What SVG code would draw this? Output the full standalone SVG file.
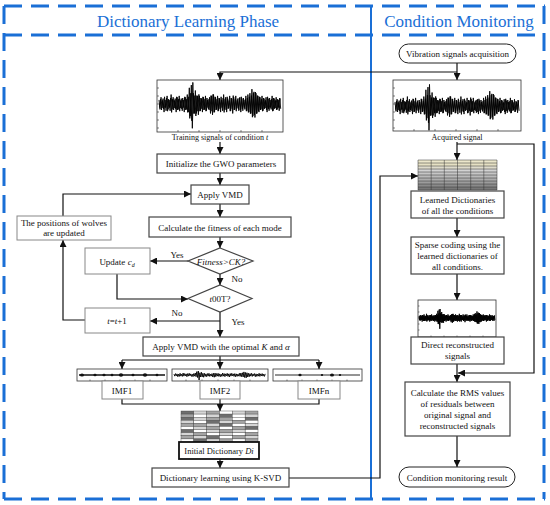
<svg xmlns="http://www.w3.org/2000/svg" xmlns:xlink="http://www.w3.org/1999/xlink" width="550" height="505" viewBox="0 0 550 505">
<style>
text{font-family:"Liberation Serif","Times New Roman",serif;font-size:9px;fill:#111;text-anchor:middle}
.title{font-size:17px;fill:#1a6fd6}
.frame{stroke:#1a6fd6;stroke-width:3;stroke-dasharray:18 9;fill:none}
.box{fill:#fff;stroke:#444;stroke-width:1.2}
.lbox{fill:#fff;stroke:#888;stroke-width:1}
.bbox{fill:#fff;stroke:#111;stroke-width:1.8}
.pill{fill:#fff;stroke:#222;stroke-width:1}
.plot{fill:#fff;stroke:#333;stroke-width:0.8}
.tick{stroke:#333;stroke-width:0.6;fill:none}
.conn{fill:none;stroke:#111;stroke-width:1.2}
.arr{marker-end:url(#ar)}
.g0{fill:#fff}.g1{fill:#d6d6d6}.g2{fill:#a4a4a4}.g3{fill:#6e6e6e}
.cell rect{stroke:#444;stroke-width:0.4}
.it{font-style:italic}
</style>
<defs>
<marker id="ar" viewBox="0 0 10 10" refX="10" refY="5" markerWidth="7" markerHeight="7" orient="auto" markerUnits="userSpaceOnUse"><path d="M0,0L10,5L0,10z" fill="#111"/></marker>
<path id="nz" fill="none" stroke="#000" stroke-width="0.9" vector-effect="non-scaling-stroke" d="M0,-3L1,4 2,-5 3,3 4,-4 5,6 6,-3 7,5 8,-6 9,4 10,-3 11,5 12,-7 13,4 14,-5 15,3 16,-4 17,6 18,-5 19,4 20,-6 21,3 22,-4 23,5 24,-3 25,6 26,-5 27,4 28,-7 29,6 30,-12 31,9 32,-14 33,18 34,-8 35,7 36,-10 37,7 38,-6 39,8 40,-6 41,5 42,-4 43,6 44,-5 45,4 46,-6 47,5 48,-3 49,4 50,-5 51,7 52,-6 53,8 54,-7 55,6 56,-5 57,4 58,-6 59,5 60,-4 61,6 62,-3 63,5 64,-7 65,4 66,-5 67,6 68,-4 69,3 70,-6 71,5 72,-4 73,7 74,-5 75,4 76,-6 77,3 78,-4 79,5 80,-5 81,6 82,-4 83,5 84,-3 85,4 86,-6 87,5 88,-7 89,6 90,-8 91,7 92,-11 93,9 94,-9 95,10 96,-8 97,7 98,-6 99,6 100,-5 101,4 102,-6 103,5 104,-4 105,3 106,-5 107,6 108,-4 109,5 110,-3 111,4 112,-6 113,5 114,-4 115,3 116,-5 117,4 118,-3 119,5 120,-4"/>
</defs>

<g id="frame">
<line class="frame" x1="4" y1="6" x2="545" y2="6"/>
<line class="frame" x1="4" y1="35" x2="545" y2="35"/>
<line class="frame" x1="4" y1="499" x2="545" y2="499"/>
<line class="frame" x1="4" y1="6" x2="4" y2="499"/>
<line class="frame" x1="544" y1="6" x2="544" y2="499"/>
<line x1="371" y1="5" x2="371" y2="500" stroke="#1a6fd6" stroke-width="2"/>
<text class="title" x="188" y="27">Dictionary Learning Phase</text>
<text class="title" x="459" y="27">Condition Monitoring</text>
</g>

<g id="connectors">
<path class="conn arr" d="M457,63V80"/>
<path class="conn arr" d="M457,72H220V80"/>
<path class="conn arr" d="M220,142V154"/>
<path class="conn arr" d="M220,173V185"/>
<path class="conn arr" d="M220,204V217"/>
<path class="conn arr" d="M220,237V248"/>
<path class="conn arr" d="M188,261H150"/>
<path class="conn arr" d="M220,274V285"/>
<path class="conn arr" d="M117,274V299H188"/>
<path class="conn arr" d="M220,312V337"/>
<path class="conn arr" d="M220,321H150"/>
<path class="conn arr" d="M85,320H63V240"/>
<path class="conn arr" d="M63,216V194H191"/>
<path class="conn arr" d="M220,356V369"/>
<path class="conn" d="M122,360H319"/>
<path class="conn arr" d="M122,360V369"/>
<path class="conn arr" d="M319,360V369"/>
<path class="conn" d="M122,399V404H319V399"/>
<path class="conn arr" d="M220,399V411"/>
<path class="conn arr" d="M220,459V468"/>
<path class="conn arr" d="M289,478H380V176H418"/>
<path class="conn arr" d="M457,142V160"/>
<path class="conn arr" d="M457,144H534V373H458"/>
<path class="conn arr" d="M457,218V237"/>
<path class="conn arr" d="M457,274V300"/>
<path class="conn arr" d="M457,364V382"/>
<path class="conn arr" d="M457,436V467"/>
<text x="177" y="258">Yes</text>
<text x="237" y="282">No</text>
<text x="177" y="316">No</text>
<text x="238" y="325">Yes</text>
</g>

<g id="training-signal">
<rect class="plot" x="157" y="80" width="126" height="52"/>
<path class="tick" d="M157,88h2M157,96h2M157,104h2M157,112h2M157,120h2M157,128h2M178,132v-2M199,132v-2M220,132v-2M241,132v-2M262,132v-2"/>
<use href="#nz" xlink:href="#nz" transform="translate(159,104) scale(1.01,1.35)"/>
<use href="#nz" xlink:href="#nz" transform="translate(159.5,104) scale(1.01,-1.2)"/>
<text x="220" y="140" style="font-size:8px">Training signals of condition <tspan class="it">t</tspan></text>
</g>

<g id="init-gwo">
<rect class="box" x="157" y="154" width="128" height="19"/>
<text x="221" y="167">Initialize the GWO parameters</text>
</g>

<g id="apply-vmd">
<rect class="box" x="191" y="185" width="58" height="19"/>
<text x="220" y="198">Apply VMD</text>
</g>

<g id="calc-fitness">
<rect class="box" x="149" y="217" width="142" height="20"/>
<text x="220" y="230.5">Calculate the fitness of each mode</text>
</g>

<g id="decision-fitness">
<polygon class="box" points="220,248 253,261 220,274 188,261"/>
<text class="it" x="221" y="264.5">Fitness&gt;CK?</text>
</g>

<g id="update-cd">
<rect class="lbox" x="85" y="248" width="65" height="26"/>
<text x="117" y="264.5">Update <tspan class="it">c</tspan><tspan class="it" dy="2" style="font-size:6px">d</tspan></text>
</g>

<g id="wolves-updated">
<rect class="lbox" x="17" y="216" width="94" height="24"/>
<text x="64" y="225.5">The positions of wolves</text>
<text x="64" y="236">are updated</text>
</g>

<g id="decision-t">
<polygon class="box" points="220,285 252,298.5 220,312 188,298.5"/>
<text x="220" y="302"><tspan class="it">t</tspan>00T?</text>
</g>

<g id="t-increment">
<rect class="lbox" x="85" y="308" width="65" height="25"/>
<text x="117" y="324"><tspan class="it">t</tspan>=<tspan class="it">t</tspan>+1</text>
</g>

<g id="apply-vmd-optimal">
<rect class="box" x="143" y="337" width="156" height="19"/>
<text x="221" y="350">Apply VMD with the optimal <tspan class="it">K</tspan> and  <tspan class="it">α</tspan></text>
</g>

<g id="imf1">
<rect class="plot" x="77" y="369" width="90" height="12"/>
<path class="tick" d="M90,381v-1.5M105,381v-1.5M120,381v-1.5M135,381v-1.5M150,381v-1.5"/>
<line x1="79" y1="375" x2="165" y2="375" stroke="#111" stroke-width="1.3"/>
<g fill="#111"><ellipse cx="82" cy="375" rx="2" ry="1.6"/><ellipse cx="95" cy="375" rx="1.6" ry="1.3"/><ellipse cx="104" cy="375" rx="1.6" ry="1.3"/><ellipse cx="112" cy="375" rx="1.4" ry="1.2"/><ellipse cx="121" cy="375" rx="2.2" ry="1.7"/><ellipse cx="133" cy="375" rx="1.5" ry="1.3"/><ellipse cx="145" cy="375" rx="2.2" ry="1.8"/><ellipse cx="157" cy="375" rx="1.4" ry="1.2"/></g>
<rect class="lbox" x="102" y="381" width="41" height="18"/>
<text x="122" y="393.5">IMF1</text>
</g>

<g id="imf2">
<rect class="plot" x="172" y="369" width="96" height="12"/>
<path class="tick" d="M186,381v-1.5M202,381v-1.5M218,381v-1.5M234,381v-1.5M250,381v-1.5"/>
<use href="#nz" xlink:href="#nz" transform="translate(174,375) scale(0.76,0.28)"/>
<rect class="lbox" x="200" y="381" width="40" height="18"/>
<text x="220" y="393.5">IMF2</text>
</g>

<g id="imfn">
<rect class="plot" x="273" y="369" width="89" height="12"/>
<path class="tick" d="M287,381v-1.5M302,381v-1.5M317,381v-1.5M332,381v-1.5M347,381v-1.5"/>
<line x1="275" y1="375" x2="360" y2="375" stroke="#111" stroke-width="0.9"/>
<g fill="#111"><ellipse cx="300" cy="375" rx="1.6" ry="1.3"/><ellipse cx="322" cy="375" rx="1.2" ry="1"/><ellipse cx="332" cy="375" rx="2" ry="1.6"/><ellipse cx="340" cy="375" rx="1.2" ry="1"/></g>
<rect class="lbox" x="298" y="381" width="42" height="18"/>
<text x="319" y="393.5">IMFn</text>
</g>

<g id="initial-dictionary">
<g class="cell">
<rect class="g3" x="181" y="411" width="12.8" height="3.1"/><rect class="g1" x="193.8" y="411" width="12.8" height="3.1"/><rect class="g2" x="206.7" y="411" width="12.8" height="3.1"/><rect class="g0" x="219.5" y="411" width="12.8" height="3.1"/><rect class="g1" x="232.3" y="411" width="12.8" height="3.1"/><rect class="g2" x="245.2" y="411" width="12.8" height="3.1"/>
<rect class="g2" x="181" y="414.1" width="12.8" height="3.1"/><rect class="g0" x="193.8" y="414.1" width="12.8" height="3.1"/><rect class="g1" x="206.7" y="414.1" width="12.8" height="3.1"/><rect class="g3" x="219.5" y="414.1" width="12.8" height="3.1"/><rect class="g0" x="232.3" y="414.1" width="12.8" height="3.1"/><rect class="g1" x="245.2" y="414.1" width="12.8" height="3.1"/>
<rect class="g3" x="181" y="417.2" width="12.8" height="3.1"/><rect class="g1" x="193.8" y="417.2" width="12.8" height="3.1"/><rect class="g2" x="206.7" y="417.2" width="12.8" height="3.1"/><rect class="g2" x="219.5" y="417.2" width="12.8" height="3.1"/><rect class="g0" x="232.3" y="417.2" width="12.8" height="3.1"/><rect class="g3" x="245.2" y="417.2" width="12.8" height="3.1"/>
<rect class="g1" x="181" y="420.3" width="12.8" height="3.1"/><rect class="g0" x="193.8" y="420.3" width="12.8" height="3.1"/><rect class="g3" x="206.7" y="420.3" width="12.8" height="3.1"/><rect class="g1" x="219.5" y="420.3" width="12.8" height="3.1"/><rect class="g2" x="232.3" y="420.3" width="12.8" height="3.1"/><rect class="g0" x="245.2" y="420.3" width="12.8" height="3.1"/>
<rect class="g2" x="181" y="423.4" width="12.8" height="3.1"/><rect class="g2" x="193.8" y="423.4" width="12.8" height="3.1"/><rect class="g1" x="206.7" y="423.4" width="12.8" height="3.1"/><rect class="g3" x="219.5" y="423.4" width="12.8" height="3.1"/><rect class="g0" x="232.3" y="423.4" width="12.8" height="3.1"/><rect class="g1" x="245.2" y="423.4" width="12.8" height="3.1"/>
<rect class="g0" x="181" y="426.5" width="12.8" height="3.1"/><rect class="g1" x="193.8" y="426.5" width="12.8" height="3.1"/><rect class="g2" x="206.7" y="426.5" width="12.8" height="3.1"/><rect class="g0" x="219.5" y="426.5" width="12.8" height="3.1"/><rect class="g2" x="232.3" y="426.5" width="12.8" height="3.1"/><rect class="g3" x="245.2" y="426.5" width="12.8" height="3.1"/>
<rect class="g3" x="181" y="429.6" width="12.8" height="3.1"/><rect class="g0" x="193.8" y="429.6" width="12.8" height="3.1"/><rect class="g1" x="206.7" y="429.6" width="12.8" height="3.1"/><rect class="g2" x="219.5" y="429.6" width="12.8" height="3.1"/><rect class="g1" x="232.3" y="429.6" width="12.8" height="3.1"/><rect class="g0" x="245.2" y="429.6" width="12.8" height="3.1"/>
<rect class="g1" x="181" y="432.7" width="12.8" height="3.1"/><rect class="g2" x="193.8" y="432.7" width="12.8" height="3.1"/><rect class="g0" x="206.7" y="432.7" width="12.8" height="3.1"/><rect class="g1" x="219.5" y="432.7" width="12.8" height="3.1"/><rect class="g0" x="232.3" y="432.7" width="12.8" height="3.1"/><rect class="g2" x="245.2" y="432.7" width="12.8" height="3.1"/>
<rect class="g2" x="181" y="435.8" width="12.8" height="3.1"/><rect class="g1" x="193.8" y="435.8" width="12.8" height="3.1"/><rect class="g3" x="206.7" y="435.8" width="12.8" height="3.1"/><rect class="g0" x="219.5" y="435.8" width="12.8" height="3.1"/><rect class="g2" x="232.3" y="435.8" width="12.8" height="3.1"/><rect class="g1" x="245.2" y="435.8" width="12.8" height="3.1"/>
<rect class="g0" x="181" y="438.9" width="12.8" height="3.1"/><rect class="g3" x="193.8" y="438.9" width="12.8" height="3.1"/><rect class="g1" x="206.7" y="438.9" width="12.8" height="3.1"/><rect class="g2" x="219.5" y="438.9" width="12.8" height="3.1"/><rect class="g0" x="232.3" y="438.9" width="12.8" height="3.1"/><rect class="g2" x="245.2" y="438.9" width="12.8" height="3.1"/>
</g>
<rect class="bbox" x="179" y="442" width="80" height="17"/>
<text x="219" y="454" style="font-size:8.5px">Initial Dictionary <tspan class="it">Di</tspan></text>
</g>

<g id="ksvd">
<rect class="box" x="152" y="468" width="137" height="19"/>
<text x="220.5" y="481">Dictionary learning using K-SVD</text>
</g>

<g id="vibration-acquisition">
<rect class="pill" x="399" y="44" width="117" height="19" rx="9.5"/>
<text x="457.5" y="57">Vibration signals acquisition</text>
</g>

<g id="acquired-signal">
<rect class="plot" x="393" y="80" width="128" height="51"/>
<path class="tick" d="M393,88h2M393,96h2M393,104h2M393,112h2M393,120h2M393,128h2M414,131v-2M435,131v-2M456,131v-2M477,131v-2M498,131v-2"/>
<use href="#nz" xlink:href="#nz" transform="translate(395,106) scale(1.03,1.35)"/>
<use href="#nz" xlink:href="#nz" transform="translate(395.5,106) scale(1.03,-1.2)"/>
<text x="457" y="140" style="font-size:8px">Acquired signal</text>
</g>

<g id="learned-dictionaries">
<rect x="418" y="160" width="79" height="3" fill="#ece7cb"/>
<rect x="418" y="163" width="79" height="3" fill="#e6e1c4"/>
<rect x="418" y="166" width="79" height="3" fill="#dedbcc"/>
<rect x="418" y="169" width="79" height="3" fill="#d2d2d2"/>
<rect x="418" y="172" width="79" height="3" fill="#c6c6c6"/>
<rect x="418" y="175" width="79" height="3" fill="#bababa"/>
<rect x="418" y="178" width="79" height="3" fill="#acacac"/>
<rect x="418" y="181" width="79" height="3" fill="#9c9c9c"/>
<rect x="418" y="184" width="79" height="3" fill="#8a8a8a"/>
<rect x="418" y="187" width="79" height="3" fill="#777"/>
<path d="M418,160H497M418,163H497M418,166H497M418,169H497M418,172H497M418,175H497M418,178H497M418,181H497M418,184H497M418,187H497M418,190H497M418,160V190M431.2,160V190M444.3,160V190M457.5,160V190M470.7,160V190M483.8,160V190M497,160V190" stroke="#333" stroke-width="0.5" fill="none"/>
<rect class="box" x="411" y="191" width="93" height="27"/>
<text x="457.5" y="203">Learned Dictionaries</text>
<text x="457.5" y="214">of all the conditions</text>
</g>

<g id="sparse-coding">
<rect class="box" x="411" y="237" width="93" height="37"/>
<text x="457.5" y="248">Sparse coding using the</text>
<text x="457.5" y="259">learned dictionaries of</text>
<text x="457.5" y="270">all conditions.</text>
</g>

<g id="reconstructed-signal">
<rect class="plot" x="418" y="300" width="78" height="37"/>
<path class="tick" d="M418,306h1.5M418,312h1.5M418,318h1.5M418,324h1.5M418,330h1.5M431,337v-1.5M444,337v-1.5M457,337v-1.5M470,337v-1.5M483,337v-1.5"/>
<use href="#nz" xlink:href="#nz" transform="translate(419,318) scale(0.63,0.6)"/>
<use href="#nz" xlink:href="#nz" transform="translate(419.3,318) scale(0.63,-0.5)"/>
</g>

<g id="direct-reconstructed">
<rect class="box" x="411" y="337" width="93" height="27"/>
<text x="457.5" y="348">Direct reconstructed</text>
<text x="457.5" y="359">signals</text>
</g>

<g id="rms">
<rect class="box" x="405" y="382" width="105" height="54"/>
<text x="457.5" y="396">Calculate the RMS values</text>
<text x="457.5" y="407">of residuals between</text>
<text x="457.5" y="418">original signal and</text>
<text x="457.5" y="429">reconstructed signals</text>
</g>

<g id="monitoring-result">
<rect class="pill" x="399" y="467" width="116" height="20" rx="10"/>
<text x="457" y="480.5">Condition monitoring result</text>
</g>
</svg>
